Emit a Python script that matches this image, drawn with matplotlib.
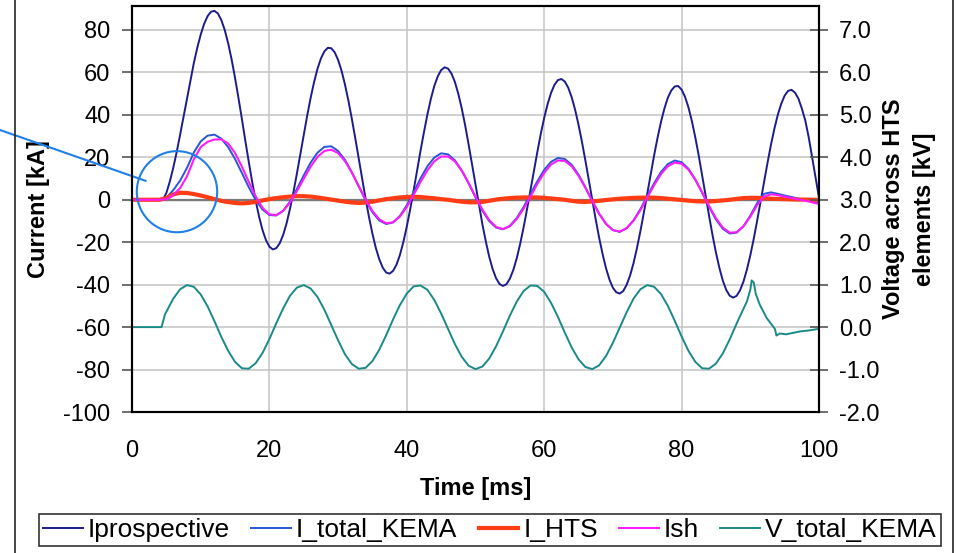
import matplotlib
matplotlib.use('Agg')
import matplotlib.pyplot as plt
from matplotlib.patches import Ellipse
from matplotlib.lines import Line2D
from matplotlib.ticker import FormatStrFormatter

plt.rcParams['font.family'] = ['Liberation Sans', 'DejaVu Sans']
plt.rcParams['axes.unicode_minus'] = False

# ---------------- data ----------------
time_ms = list(range(0, 101))
ip_time_ms = [k / 2 for k in range(0, 201)]

i_prospective = [
    0, 0, 0, 0, 0, 0, 0, 0, 0, 0,
    3.2, 8.5, 15.0, 22.4, 30.6, 39.1, 47.8, 56.3, 64.4, 71.6,
    77.8, 82.9, 86.5, 88.6, 89.0, 87.8, 84.7, 80.0, 73.7, 66.1,
    57.4, 47.9, 38.0, 27.7, 17.8, 8.3, -0.4, -8.0, -14.3, -19.0,
    -22.1, -23.4, -22.8, -20.5, -16.6, -11.1, -4.2, 3.6, 12.3, 21.4,
    30.6, 39.6, 48.0, 55.4, 61.7, 66.6, 69.9, 71.6, 71.4, 69.5,
    65.9, 60.8, 54.3, 46.7, 38.1, 29.0, 19.4, 9.8, 0.5, -8.2,
    -16.0, -22.8, -28.1, -32.0, -34.3, -34.8, -33.5, -30.6, -26.0, -19.9,
    -12.6, -4.4, 4.5, 13.8, 23.1, 31.9, 40.2, 47.5, 53.6, 58.1,
    61.1, 62.4, 61.8, 59.5, 55.5, 49.9, 43.0, 35.0, 26.0, 16.6,
    7.0, -2.4, -11.5, -19.6, -26.9, -32.7, -37.0, -39.7, -40.6, -39.8,
    -37.2, -33.1, -27.6, -20.8, -13.0, -4.5, 4.5, 13.6, 22.5, 31.0,
    38.6, 45.1, 50.4, 54.2, 56.4, 56.9, 55.7, 52.8, 48.3, 42.4,
    35.3, 27.2, 18.4, 9.2, -0.2, -9.3, -17.9, -25.6, -32.3, -37.6,
    -41.5, -43.6, -44.2, -43.0, -40.1, -35.7, -29.9, -22.8, -14.8, -6.2,
    2.9, 12.1, 20.9, 29.2, 36.7, 43.0, 48.1, 51.5, 53.4, 53.6,
    51.9, 48.5, 43.5, 37.0, 29.3, 20.7, 11.4, 1.9, -7.6, -16.6,
    -24.9, -32.1, -38.1, -42.5, -45.2, -46.1, -45.3, -42.7, -38.6, -33.0,
    -26.2, -18.4, -9.8, -0.8, 8.3, 17.3, 25.8, 33.4, 40.0, 45.2,
    49.1, 51.3, 51.8, 50.5, 47.7, 43.0, 37.4, 29.5, 20.0, 10.5,
    1.0]

i_total_kema = [
    0, 0, 0, 0, 0, 0.9, 4.5, 9.0, 15.0, 22.3,
    27.5, 30.2, 30.7, 28.8, 24.8, 19.2, 12.6, 5.9, -0.1, -4.6,
    -7.2, -7.4, -5.2, -0.8, 5.1, 11.5, 17.5, 22.2, 24.9, 25.2,
    23.0, 18.8, 12.9, 6.3, -0.3, -5.9, -9.8, -11.4, -10.7, -7.6,
    -2.6, 3.6, 10.1, 15.8, 19.9, 21.9, 21.4, 18.6, 13.8, 7.7,
    1.1, -5.1, -10.1, -13.1, -13.9, -12.3, -8.6, -3.4, 2.7, 8.7,
    14.1, 17.9, 19.7, 19.2, 16.5, 11.8, 5.9, -0.5, -6.6, -11.4,
    -14.3, -15.1, -13.4, -9.7, -4.4, 1.7, 7.8, 13.1, 16.8, 18.5,
    17.7, 14.6, 9.5, 3.2, -3.4, -9.3, -13.7, -15.9, -15.5, -12.5,
    -7.5, -1.5, 2.8, 3.5, 2.8, 2.0, 1.3, 0.6, 0.0, -0.8,
    -1.5]

i_hts = [
    0, 0, 0, 0, 0, 0.8, 2.5, 3.3, 3.2, 2.7,
    2.0, 1.2, 0.3, -0.5, -1.1, -1.5, -1.7, -1.5, -1.0, -0.3,
    0.3, 0.8, 1.2, 1.5, 1.7, 1.7, 1.5, 1.1, 0.6, 0.1,
    -0.4, -0.9, -1.3, -1.5, -1.3, -0.9, -0.3, 0.3, 0.7, 1.1,
    1.3, 1.4, 1.3, 1.0, 0.7, 0.3, 0.0, -0.5, -0.9, -1.2,
    -1.2, -1.0, -0.5, 0.1, 0.5, 0.8, 1.0, 1.1, 1.1, 1.1,
    0.9, 0.6, 0.3, 0.0, -0.5, -0.9, -1.0, -0.8, -0.5, -0.1,
    0.2, 0.5, 0.7, 0.9, 1.0, 1.0, 1.0, 0.8, 0.5, 0.2,
    -0.1, -0.4, -0.7, -0.8, -0.8, -0.6, -0.3, 0.0, 0.4, 0.8,
    0.9, 0.9, 0.7, 0.5, 0.4, 0.3, 0.2, 0.1, 0.1, 0.0,
    0.0]

i_sh = [
    0, 0, 0, 0, 0, 0.3, 2.2, 5.5, 11.0, 19.0,
    24.8, 27.3, 28.4, 28.5, 26.5, 22.0, 15.6, 8.4, 1.6, -3.8,
    -6.9, -7.2, -5.2, -1.3, 4.0, 9.9, 15.6, 20.2, 23.0, 23.6,
    22.0, 18.2, 12.8, 6.5, 0.2, -5.3, -9.2, -11.1, -10.6, -7.9,
    -3.4, 2.3, 8.4, 13.9, 18.1, 20.4, 20.4, 18.1, 13.7, 7.9,
    1.5, -4.6, -9.6, -12.8, -13.8, -12.5, -9.1, -4.2, 1.5, 7.5,
    12.7, 16.6, 18.5, 18.3, 15.8, 11.3, 5.6, -0.7, -6.6, -11.3,
    -14.3, -15.0, -13.4, -9.9, -4.9, 1.0, 6.9, 12.1, 15.8, 17.5,
    17.0, 14.2, 9.4, 3.5, -2.9, -8.7, -13.1, -15.5, -15.3, -12.5,
    -8.0, -2.5, 1.5, 2.6, 2.2, 1.5, 0.8, 0.2, -0.5, -1.2,
    -2.0]

v_time_ms = ([0, 1, 2, 3, 4, 4.3, 4.8] + list(range(5, 90))
             + [89.5, 90.0, 90.2, 90.5, 90.8, 91.4, 92.4, 93.3, 93.6, 93.8,
                94.3, 95.2, 96.1, 97.3, 98.5, 100.0])

v_total_kema = [
    0.0, 0.0, 0.0, 0.0, 0.0, 0.0, 0.30,
    0.36, 0.67, 0.89, 0.99, 0.95, 0.77, 0.49, 0.14, -0.23, -0.56,
    -0.82, -0.97, -0.98, -0.85, -0.61, -0.28, 0.09, 0.44, 0.74, 0.93,
    0.99, 0.91, 0.71, 0.41, 0.05, -0.31, -0.64, -0.87, -0.98, -0.96,
    -0.80, -0.53, -0.19, 0.18, 0.52, 0.79, 0.96, 0.98, 0.88, 0.64,
    0.32, -0.04, -0.40, -0.70, -0.91, -0.99, -0.93, -0.74, -0.45, -0.10,
    0.27, 0.60, 0.85, 0.98, 0.97, 0.83, 0.57, 0.24, -0.13, -0.48,
    -0.76, -0.94, -0.99, -0.90, -0.68, -0.37, -0.01, 0.35, 0.67, 0.89,
    0.99, 0.95, 0.78, 0.50, 0.15, -0.22, -0.56, -0.82, -0.97, -0.98,
    -0.86, -0.62, -0.29, 0.08, 0.43,
    0.60, 0.88, 1.10, 1.05, 0.78, 0.52, 0.21, 0.02, -0.05, -0.20,
    -0.15, -0.17, -0.14, -0.10, -0.08, -0.04]

series_labels = ['Iprospective', 'I_total_KEMA', 'I_HTS', 'Ish', 'V_total_KEMA']
x_ticks = [0, 20, 40, 60, 80, 100]
current_ticks = [-100, -80, -60, -40, -20, 0, 20, 40, 60, 80]
voltage_ticks = [-2, -1, 0, 1, 2, 3, 4, 5, 6, 7]

# ---------------- figure ----------------
W, H = 956, 553
fig = plt.figure(figsize=(W / 100, H / 100), dpi=100)
ax = fig.add_axes([132 / W, 1 - 412 / H, 687 / W, 406 / H])

ax.set_xlim(0, 100)
ax.set_ylim(-100, 91.3)
ax.set_xticks(x_ticks)
ax.set_yticks(current_ticks)
ax.grid(True, color='#c4c4c4', lw=1.1)
ax.set_axisbelow(True)
for s in ax.spines.values():
    s.set_color('black')
    s.set_linewidth(1.5)

ax.tick_params(axis='y', direction='out', length=7, width=1.2, color='#555555',
               labelsize=17, pad=8.5)
ax.tick_params(axis='x', length=0, pad=20, labelsize=17)

# category axis crossing at zero
ax.axhline(0, color='#7a7a7a', lw=1.6, zorder=1.8)
sec = ax.secondary_xaxis(100 / 191.3)
sec.set_xticks([20, 40, 60, 80])
sec.set_xticklabels([])
sec.tick_params(direction='out', length=4.5, width=1.5, color='#7a7a7a',
                labelbottom=False, labeltop=False)
sec.spines['bottom'].set_visible(False)

l1, = ax.plot(ip_time_ms, i_prospective, color='#1c1c8c', lw=1.4, label=series_labels[0])
l2, = ax.plot(time_ms, i_total_kema, color='#2a55d6', lw=1.4, label=series_labels[1])
l3, = ax.plot(time_ms, i_hts, color='#ff3c14', lw=3.0, label=series_labels[2])
l4, = ax.plot(time_ms, i_sh, color='#ff1aff', lw=1.5, label=series_labels[3])

ax2 = ax.twinx()
ax2.set_ylim(-2, 7.565)
ax2.set_yticks(voltage_ticks)
ax2.yaxis.set_major_formatter(FormatStrFormatter('%.1f'))
ax2.tick_params(axis='y', direction='inout', length=13, width=1.2, color='#555555',
                labelsize=17, pad=8)
for s in ax2.spines.values():
    s.set_color('black')
    s.set_linewidth(1.5)
l5, = ax2.plot(v_time_ms, v_total_kema, color='#1a8a88', lw=1.4, label=series_labels[4])

ax.set_ylabel('Current [kA]', fontsize=17, fontweight='bold')
ax.yaxis.set_label_coords(-0.119, 0.5)
ax2.set_ylabel('Voltage across HTS\nelements [kV]', fontsize=17, fontweight='bold',
               linespacing=1.45)
ax2.yaxis.set_label_coords(1.092, 0.5)
ax.set_xlabel('Time [ms]', fontsize=17, fontweight='bold')
ax.xaxis.set_label_coords(0.5, -0.16)

# annotation: circle + pointer line
ring_color = '#1f7fe8'
ax.add_patch(Ellipse((6.55, 3.8), width=11.7, height=38.2, transform=ax.transData,
                     fill=False, edgecolor=ring_color, lw=1.5, clip_on=False, zorder=5))
ax.annotate('', xy=(2.0, 8.9), xycoords='data', xytext=(0, 1 - 130 / H),
            textcoords='figure fraction',
            arrowprops=dict(arrowstyle='-', color=ring_color, lw=1.5,
                            shrinkA=0, shrinkB=0),
            annotation_clip=False)

# outer chart-area border (left/right edges visible in the crop)
for xb in (15 / W, 953 / W):
    fig.add_artist(Line2D([xb, xb], [0, 1], transform=fig.transFigure,
                          color='#222222', lw=1.2))

leg = fig.legend([l1, l2, l3, l4, l5], series_labels, loc='center',
                 bbox_to_anchor=(490 / W, 1 - 530 / H), ncol=5, fontsize=19,
                 frameon=True, fancybox=False, edgecolor='#333333', framealpha=1,
                 borderpad=0.15, handlelength=1.5, handletextpad=0.2,
                 columnspacing=0.8, borderaxespad=0)
leg.get_frame().set_linewidth(1.2)

fig.savefig('out.png', dpi=100)
